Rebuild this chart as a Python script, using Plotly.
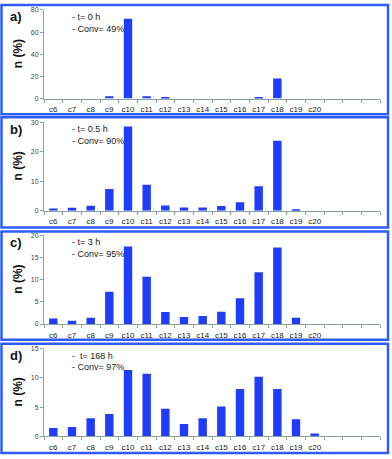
import plotly.graph_objects as go

# categorias (las 3 ultimas vacias en el original)
categories = ["c6", "c7", "c8", "c9", "c10", "c11", "c12", "c13", "c14",
              "c15", "c16", "c17", "c18", "c19", "c20", " ", "  ", "   "]

n_0h = [0, 0, 0, 2.1, 72, 2.0, 0.9, 0, 0, 0, 0, 1.2, 18.1, 0, 0, None, None, None]
n_05h = [0.8, 1.0, 1.7, 7.4, 28.5, 8.8, 1.8, 1.1, 1.1, 1.6, 2.9, 8.3, 23.7, 0.5, 0, None, None, None]
n_3h = [1.25, 0.75, 1.4, 7.3, 17.5, 10.7, 2.7, 1.6, 1.8, 2.8, 5.8, 11.7, 17.3, 1.4, 0, None, None, None]
n_168h = [1.4, 1.6, 3.1, 3.8, 11.35, 10.7, 4.7, 2.1, 3.1, 5.1, 8.1, 10.2, 8.1, 2.9, 0.5, None, None, None]

panel_labels = ["a)", "b)", "c)", "d)"]
times = ["- t= 0 h", "- t= 0.5 h", "- t= 3 h", "-  t= 168 h"]
convs = ["- Conv= 49%", "- Conv= 90%", "- Conv= 95%", "- Conv= 97%"]
y_max = [80, 30, 20, 15]
y_step = [20, 10, 5, 5]
series = [n_0h, n_05h, n_3h, n_168h]

W, H = 392, 459
BAR = "#1f3cff"
BORDER = "#2e5cff"
AXIS = "#8aa3a3"
FONT = "Liberation Sans"

# posiciones en pixeles (area de grafico y recuadro de cada panel)
plot_top = [6, 120, 235, 350]
plot_bot = [96, 210, 325, 439]
box_top = [1, 115, 231, 345]
box_bot = [112, 227, 341, 456]
x0, x1 = 44, 380

fig = go.Figure()
annotations = []
shapes = []

for i in range(4):
    ax = "" if i == 0 else str(i + 1)
    fig.add_trace(go.Bar(
        x=categories, y=series[i], marker_color=BAR, marker_line_width=0,
        xaxis="x" + ax, yaxis="y" + ax, showlegend=False
    ))
    dom_y = [1 - plot_bot[i] / H, 1 - plot_top[i] / H]
    fig.update_layout(**{
        "xaxis" + ax: dict(
            domain=[x0 / W, x1 / W], anchor="y" + ax, type="category",
            categoryorder="array", categoryarray=categories,
            showline=True, linecolor=AXIS, linewidth=1,
            ticks="outside", tickson="boundaries", ticklen=3, tickcolor=AXIS,
            tickangle=0, ticklabelstandoff=3,
            tickfont=dict(size=8, color="#222", family=FONT),
            showgrid=False, fixedrange=True
        ),
        "yaxis" + ax: dict(
            domain=dom_y, anchor="x" + ax, range=[0, y_max[i]],
            dtick=y_step[i], showline=True, linecolor=AXIS, linewidth=1,
            ticks="outside", ticklen=3, tickcolor=AXIS,
            tickfont=dict(size=7, color="#444", family=FONT),
            showgrid=False, zeroline=False, fixedrange=True
        ),
    })
    shapes.append(dict(
        type="rect", xref="paper", yref="paper",
        x0=1.5 / W, x1=388 / W, y0=1 - box_bot[i] / H, y1=1 - box_top[i] / H,
        line=dict(color=BORDER, width=2.5)
    ))
    annotations.append(dict(
        text="<b>" + panel_labels[i] + "</b>", xref="paper", yref="paper",
        x=8 / W, y=1 - (plot_top[i] + 7) / H, xanchor="left", yanchor="middle",
        showarrow=False, font=dict(size=13, color="#111", family=FONT)
    ))
    annotations.append(dict(
        text="<b>n (%)</b>", xref="paper", yref="paper", textangle=-90,
        x=18 / W, y=1 - (plot_top[i] + plot_bot[i]) / 2 / H,
        xanchor="center", yanchor="middle",
        showarrow=False, font=dict(size=12, color="#111", family=FONT)
    ))
    annotations.append(dict(
        text=times[i], xref="paper", yref="paper",
        x=70 / W, y=1 - (plot_top[i] + 7) / H, xanchor="left", yanchor="middle",
        showarrow=False, font=dict(size=9, color="#222", family=FONT)
    ))
    annotations.append(dict(
        text=convs[i], xref="paper", yref="paper",
        x=70 / W, y=1 - (plot_top[i] + 19) / H, xanchor="left", yanchor="middle",
        showarrow=False, font=dict(size=9, color="#222", family=FONT)
    ))

fig.update_layout(
    width=W, height=H,
    margin=dict(l=0, r=0, t=0, b=0),
    paper_bgcolor="white", plot_bgcolor="white",
    bargap=0.55,
    shapes=shapes, annotations=annotations,
    font=dict(family=FONT)
)

# sin margen del body para que la figura ocupe toda la ventana
fig.write_html("out.html", config={"displayModeBar": False},
               post_script="document.body.style.margin='0';")
